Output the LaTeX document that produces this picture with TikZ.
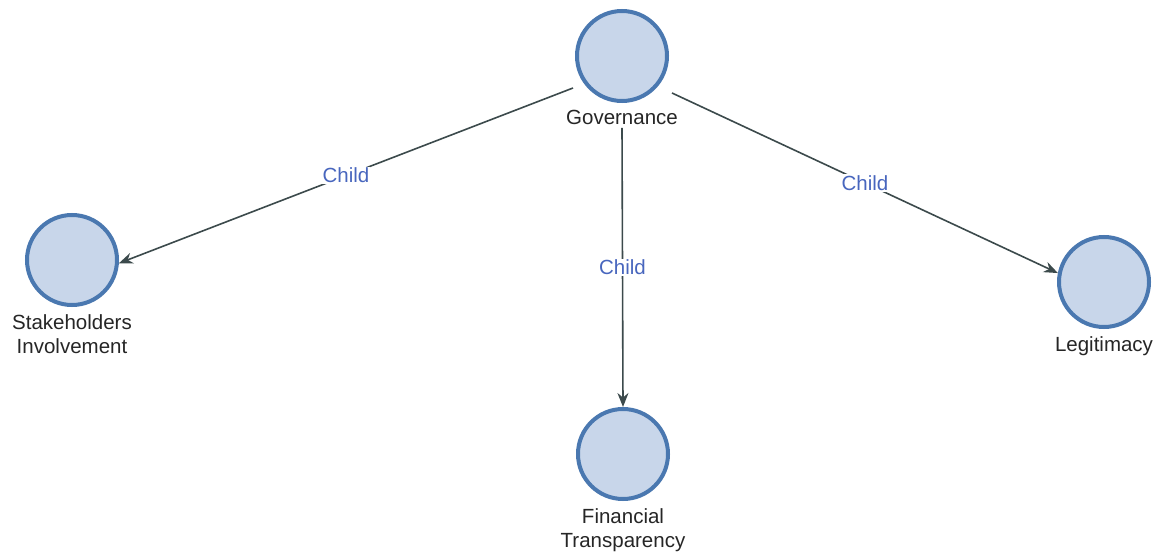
\documentclass[tikz,border=0pt]{standalone}
\usepackage{fontspec}
\setmainfont{Liberation Sans}
\usetikzlibrary{arrows.meta}
\definecolor{ringblue}{RGB}{74,120,176}
\definecolor{fillblue}{RGB}{200,214,234}
\definecolor{edgegrey}{RGB}{60,74,76}
\definecolor{childblue}{RGB}{72,102,190}
\begin{document}
\begin{tikzpicture}[
    x=1pt, y=1pt,
    concept/.style={circle, draw=ringblue, fill=fillblue, line width=4pt, minimum size=90pt, inner sep=0pt},
    nlabel/.style={font=\fontsize{20.5}{24}\selectfont, align=center, inner sep=2pt, label distance=5pt, text=black!85},
    childof/.style={draw=edgegrey, line width=1.6pt, -{Stealth[length=14pt,width=11pt]}},
    tlabel/.style={midway, fill=white, inner sep=1pt, text=childblue, font=\fontsize{20.5}{24}\selectfont}
    ]
	\useasboundingbox [fill=white] (0,0) rectangle (1161,555);
	\node [concept, label={[nlabel, name=govlbl]below:Governance}] (gov) at (622,499) {};
	\node [concept, label={[nlabel, name=stakelbl]below:Stakeholders\\Involvement}] (stake) at (72,295) {};
	\node [concept, label={[nlabel, name=finlbl]below:Financial\\Transparency}] (fin) at (623,101) {};
	\node [concept, label={[nlabel, name=legitlbl]below:Legitimacy}] (legit) at (1104,273) {};
	\draw [childof] ([shift={(-49,-32)}]gov.center) -- (stake.-4) node [tlabel]{Child};
	\draw [childof] ([yshift=-1pt]govlbl.south) -- (fin.north) node [tlabel]{Child};
	\draw [childof] ([shift={(50,-37)}]gov.center) -- (legit.169) node [tlabel]{Child};
\end{tikzpicture}
\end{document}
